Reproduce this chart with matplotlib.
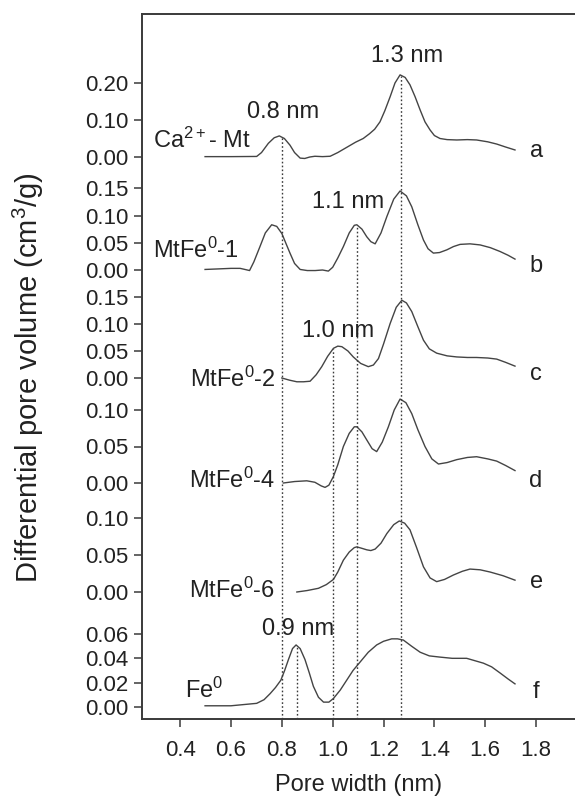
import matplotlib
matplotlib.use("Agg")
import matplotlib.pyplot as plt
import numpy as np

plt.rcParams["font.family"] = ["Liberation Sans", "DejaVu Sans"]
plt.rcParams["mathtext.fontset"] = "custom"
plt.rcParams["mathtext.rm"] = "Liberation Sans"
plt.rcParams["mathtext.it"] = "Liberation Sans:italic"

# pore width (nm) and differential pore volume (cm3/g)
x_a = [0.498, 0.60, 0.701, 0.72, 0.747, 0.77, 0.79, 0.81, 0.832, 0.85, 0.872, 0.89,
       0.91, 0.93, 0.96, 0.99, 1.02, 1.055, 1.09, 1.12, 1.145, 1.165, 1.186, 1.205,
       1.226, 1.245, 1.265, 1.285, 1.304, 1.324, 1.344, 1.363, 1.383, 1.40, 1.422,
       1.45, 1.488, 1.53, 1.566, 1.61, 1.645, 1.68, 1.717]
y_a = [0.001, 0.001, 0.0015, 0.012, 0.037, 0.052, 0.057, 0.050, 0.032, 0.012, -0.003,
       -0.004, 0.000, 0.002, 0.001, 0.002, 0.012, 0.026, 0.040, 0.050, 0.063, 0.075,
       0.095, 0.125, 0.163, 0.200, 0.222, 0.215, 0.195, 0.163, 0.127, 0.095, 0.073,
       0.058, 0.050, 0.047, 0.046, 0.047, 0.046, 0.041, 0.035, 0.027, 0.019]

x_b = [0.498, 0.55, 0.60, 0.636, 0.655, 0.673, 0.69, 0.714, 0.735, 0.760, 0.78, 0.800,
       0.815, 0.832, 0.85, 0.872, 0.90, 0.931, 0.96, 0.983, 1.00, 1.02, 1.042, 1.065,
       1.085, 1.095, 1.115, 1.134, 1.15, 1.167, 1.19, 1.213, 1.24, 1.265, 1.29, 1.311,
       1.335, 1.357, 1.375, 1.396, 1.42, 1.449, 1.475, 1.501, 1.54, 1.58, 1.62, 1.658,
       1.69, 1.717]
y_b = [0.001, 0.002, 0.003, 0.003, 0.001, -0.001, 0.015, 0.043, 0.068, 0.083, 0.080,
       0.067, 0.050, 0.031, 0.012, 0.001, -0.001, -0.001, 0.000, -0.002, 0.005, 0.022,
       0.043, 0.068, 0.082, 0.083, 0.075, 0.061, 0.052, 0.048, 0.068, 0.098, 0.130,
       0.145, 0.136, 0.116, 0.083, 0.055, 0.039, 0.031, 0.032, 0.037, 0.043, 0.047,
       0.048, 0.046, 0.041, 0.034, 0.027, 0.020]

x_c = [0.800, 0.83, 0.859, 0.885, 0.911, 0.935, 0.957, 0.98, 1.003, 1.02, 1.036, 1.06,
       1.081, 1.11, 1.140, 1.16, 1.180, 1.20, 1.226, 1.25, 1.272, 1.29, 1.311, 1.335,
       1.357, 1.38, 1.409, 1.45, 1.488, 1.53, 1.566, 1.61, 1.645, 1.68, 1.717]
y_c = [0.000, -0.004, -0.007, -0.007, -0.006, 0.006, 0.021, 0.040, 0.055, 0.059, 0.058,
       0.050, 0.039, 0.027, 0.021, 0.024, 0.036, 0.063, 0.101, 0.131, 0.144, 0.139,
       0.123, 0.095, 0.070, 0.054, 0.046, 0.041, 0.039, 0.038, 0.038, 0.037, 0.035,
       0.029, 0.022]

x_d = [0.806, 0.85, 0.898, 0.93, 0.955, 0.970, 0.985, 1.003, 1.02, 1.042, 1.065, 1.085,
       1.095, 1.115, 1.134, 1.155, 1.173, 1.195, 1.219, 1.242, 1.265, 1.288, 1.311,
       1.335, 1.363, 1.39, 1.416, 1.45, 1.488, 1.53, 1.566, 1.61, 1.645, 1.68, 1.717]
y_d = [0.000, 0.002, 0.003, 0.001, -0.004, -0.006, -0.003, 0.009, 0.025, 0.050, 0.068,
       0.077, 0.077, 0.070, 0.059, 0.047, 0.043, 0.056, 0.077, 0.100, 0.115, 0.110,
       0.095, 0.073, 0.050, 0.033, 0.026, 0.028, 0.032, 0.035, 0.036, 0.033, 0.030,
       0.024, 0.017]

x_e = [0.859, 0.90, 0.944, 0.975, 1.003, 1.02, 1.042, 1.065, 1.085, 1.095, 1.115, 1.134,
       1.150, 1.167, 1.19, 1.213, 1.24, 1.262, 1.283, 1.304, 1.33, 1.357, 1.383, 1.409,
       1.44, 1.475, 1.51, 1.540, 1.58, 1.619, 1.67, 1.717]
y_e = [0.000, 0.002, 0.005, 0.010, 0.017, 0.027, 0.043, 0.054, 0.060, 0.061, 0.059,
       0.057, 0.056, 0.058, 0.066, 0.079, 0.091, 0.096, 0.093, 0.084, 0.060, 0.034,
       0.019, 0.014, 0.017, 0.023, 0.028, 0.031, 0.030, 0.027, 0.022, 0.016]

x_f = [0.498, 0.60, 0.65, 0.701, 0.73, 0.754, 0.775, 0.796, 0.811, 0.826, 0.842, 0.856,
       0.872, 0.891, 0.908, 0.924, 0.944, 0.964, 0.985, 1.003, 1.03, 1.055, 1.08, 1.108,
       1.14, 1.173, 1.20, 1.232, 1.255, 1.278, 1.31, 1.344, 1.38, 1.422, 1.47, 1.527,
       1.56, 1.593, 1.625, 1.658, 1.69, 1.717]
y_f = [0.001, 0.001, 0.002, 0.003, 0.006, 0.011, 0.016, 0.022, 0.030, 0.039, 0.048,
       0.051, 0.048, 0.039, 0.028, 0.017, 0.008, 0.004, 0.004, 0.007, 0.014, 0.022,
       0.030, 0.037, 0.045, 0.051, 0.054, 0.056, 0.056, 0.055, 0.050, 0.045, 0.042,
       0.041, 0.040, 0.040, 0.038, 0.036, 0.033, 0.028, 0.023, 0.019]

letters = ["a", "b", "c", "d", "e", "f"]
sample_names = ["Ca$^{2+}$- Mt", "MtFe$^{0}$-1", "MtFe$^{0}$-2",
                "MtFe$^{0}$-4", "MtFe$^{0}$-6", "Fe$^{0}$"]
tick_values = [
    [0.00, 0.10, 0.20],
    [0.00, 0.05, 0.10, 0.15],
    [0.00, 0.05, 0.10, 0.15],
    [0.00, 0.05, 0.10],
    [0.00, 0.05, 0.10],
    [0.00, 0.02, 0.04, 0.06],
]

# marked pore widths: (x, index of curve whose peak the line starts from)
peak_lines = [(0.80, 0), (0.86, 5), (1.00, 2), (1.095, 1), (1.27, 0)]
peak_labels = [("1.3 nm", 1.293, 657), ("0.8 nm", 0.805, 601), ("1.1 nm", 1.06, 511),
               ("1.0 nm", 1.021, 382), ("0.9 nm", 0.864, 84)]

# stacking layout: baseline and vertical scale of each curve
offsets = [562, 449, 341, 236, 127, 12]
scales = [370, 545, 540, 730, 740, 1217]
name_pos = [(0.294, 571, "left"), (0.294, 461, "left"), (0.774, 332, "right"),
            (0.774, 231, "right"), (0.774, 121, "right"), (0.42, 21, "left")]
letter_y = [562, 447, 339, 232, 131, 21]

curves = [(x_a, y_a), (x_b, y_b), (x_c, y_c), (x_d, y_d), (x_e, y_e), (x_f, y_f)]
ink = "#3a3a3a"
txt_color = "#222222"

fig = plt.figure(figsize=(5.75, 7.98), dpi=100)
ax = fig.add_axes([142 / 575, 79 / 798, 433 / 575, 705 / 798])

for (xs, ys), off, sc in zip(curves, offsets, scales):
    ax.plot(xs, off + sc * np.asarray(ys), color="#444444", lw=1.0,
            solid_joinstyle="round")

for xv, idx in peak_lines:
    xs, ys = curves[idx]
    top = offsets[idx] + scales[idx] * np.interp(xv, xs, ys)
    ax.plot([xv, xv], [0, top], color=ink, lw=1.0, ls=(0, (1.2, 1.6)))

for txt, xv, yv in peak_labels:
    ax.text(xv, yv, txt, fontsize=17, ha="center", va="baseline", color=txt_color)

for name, (xv, yv, ha), let, ly in zip(sample_names, name_pos, letters, letter_y):
    ax.text(xv, yv, name, fontsize=17, ha=ha, va="baseline", color=txt_color)
    ax.text(1.80, ly, let, fontsize=17, ha="center", va="baseline", color=txt_color)

ticks, labels = [], []
for vals, off, sc in zip(tick_values, offsets, scales):
    for v in vals:
        ticks.append(off + sc * v)
        labels.append(f"{v:.2f}")
ax.set_yticks(ticks)
ax.set_yticklabels(labels)

ax.set_xlim(0.25, 1.953)
ax.set_ylim(0, 705)
ax.set_xticks([0.4, 0.6, 0.8, 1.0, 1.2, 1.4, 1.6, 1.8])
ax.set_xticklabels(["0.4", "0.6", "0.8", "1.0", "1.2", "1.4", "1.6", "1.8"])

ax.tick_params(axis="both", direction="out", length=6, width=1.1, colors=ink,
               labelsize=16, labelcolor=txt_color)
ax.tick_params(axis="x", pad=9)
ax.tick_params(axis="y", pad=4)

for side in ["left", "bottom", "top"]:
    ax.spines[side].set_linewidth(1.4)
    ax.spines[side].set_color(ink)
ax.spines["right"].set_visible(False)

ax.set_xlabel("Pore width (nm)", fontsize=17, color=txt_color)
ax.xaxis.set_label_coords(0.501, -0.078)
ax.set_ylabel("Differential pore volume (cm$^{3}$/g)", fontsize=21, color=txt_color)
ax.yaxis.set_label_coords(-0.222, 0.484)

fig.savefig("out.png", dpi=100)
